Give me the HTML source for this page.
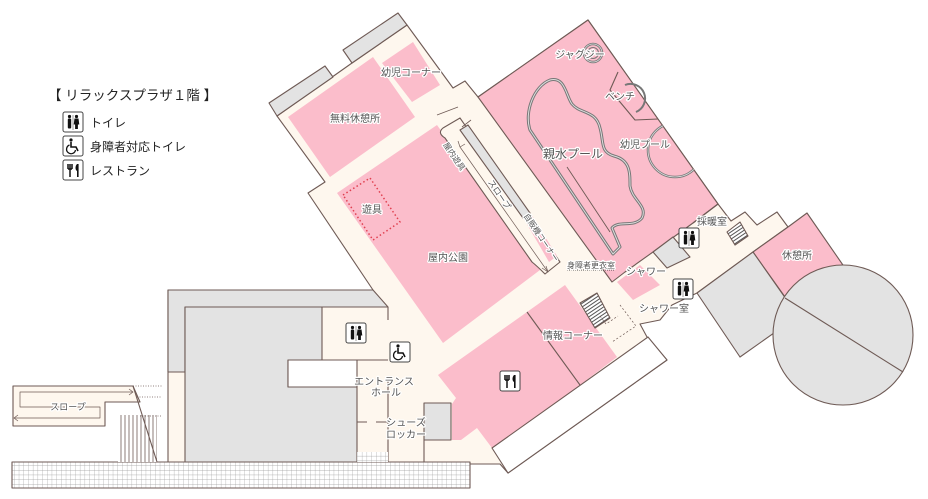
<!DOCTYPE html>
<html><head><meta charset="utf-8"><style>
html,body{margin:0;padding:0;background:#fff;}
svg{display:block;}
text{font-family:"Liberation Sans","Noto Sans CJK JP",sans-serif;fill:#555;}
.l{font-size:10px;paint-order:stroke;stroke:#fff;stroke-width:2.5px;stroke-linejoin:round;}
</style></head><body>
<svg width="928" height="499" viewBox="0 0 928 499" xmlns="http://www.w3.org/2000/svg">
<defs>
<pattern id="grid" width="4.7" height="4.7" patternUnits="userSpaceOnUse">
<rect width="4.7" height="4.7" fill="#fff"/><path d="M0 0H4.7M0 0V4.7" stroke="#999" stroke-width="0.6"/>
</pattern>
<pattern id="vl" width="4" height="4" patternUnits="userSpaceOnUse"><rect width="4" height="4" fill="#fff"/><path d="M1 0V4" stroke="#6e5a55" stroke-width="0.8"/></pattern>
<pattern id="hs" width="3" height="3" patternUnits="userSpaceOnUse" patternTransform="rotate(-34)"><rect width="3" height="3" fill="#fff"/><path d="M0 1H3" stroke="#555" stroke-width="1"/></pattern>
<clipPath id="poolclip"><polygon points="478,97 588,20 718,204 693,223 653,252 625,272 612,282"/></clipPath>
<g id="wc"><rect x="0" y="0" width="20" height="20" rx="2" fill="#fff" stroke="#444" stroke-width="1"/>
<circle cx="6.5" cy="4.5" r="1.6" fill="#111"/><rect x="4.8" y="6.5" width="3.4" height="10" rx="1" fill="#111"/>
<circle cx="13.5" cy="4.5" r="1.6" fill="#111"/><path d="M11.5 6.5h4l0.8 6h-1.4v4.5h-2.8v-4.5h-1.4z" fill="#111"/>
<line x1="10" y1="3" x2="10" y2="18" stroke="#444" stroke-width="0.5"/></g>
<g id="rest"><rect x="0" y="0" width="20" height="20" rx="2" fill="#fff" stroke="#444"/>
<path d="M5 4v5M7 4v5M9 4v5M5 9h4M7 9v8" stroke="#111" stroke-width="1.5" fill="none"/><path d="M14 4c-2 2-2 6 0 7v6h1.6V4z" fill="#111"/></g>
<g id="hc"><rect x="0" y="0" width="20" height="20" rx="2" fill="#fff" stroke="#444"/>
<circle cx="8" cy="4" r="1.6" fill="#111"/><path d="M8 6v5h5l2 4" stroke="#111" stroke-width="1.6" fill="none"/><path d="M6.5 9a4.5 4.5 0 1 0 6 5" stroke="#111" stroke-width="1.3" fill="none"/></g>
</defs>

<text x="48" y="100" style="font-size:13.5px;fill:#222">【 リラックスプラザ１階 】</text>
<use href="#wc" x="63" y="112"/>
<text x="90" y="127" style="font-size:12px;fill:#222">トイレ</text>
<use href="#hc" x="63" y="136"/>
<text x="90" y="151" style="font-size:12px;fill:#222">身障者対応トイレ</text>
<use href="#rest" x="63" y="160"/>
<text x="90" y="175" style="font-size:12px;fill:#222">レストラン</text>

<g stroke="#6e5a55" stroke-width="1.1" stroke-linejoin="round">
<rect x="12" y="462" width="458" height="26" fill="url(#grid)"/>
<polygon fill="#fef7ee" points="277,116 352,63 407,25 453,88 465,81 478,97 588,20 718,204 731,221 745,212 757,225 777,212 788,227 753,252 697,293 672,305 660,320 640,324 647,337 667,360 508,473 500,464 470,464 470,462 168,462 168,290 373,290 308,193 325,182"/>
<polygon fill="#e3e3e3" points="269,103 325,66 333,77 277,116"/>
<polygon fill="#e3e3e3" points="343,50 398,13 407,25 352,63"/>
<polygon fill="#fbbdcb" stroke="none" points="288,117 373,57 415,117 330,177"/>
<polygon fill="#fbbdcb" stroke="none" points="382,63 413,42 440,85 412,102"/>
<polygon fill="#fbbdcb" stroke="none" points="337,193 437,125 540,270 443,343"/>
<polygon fill="#fbbdcb" points="478,97 588,20 718,204 693,223 653,252 625,272 612,282"/>
<polygon fill="#e3e3e3" points="653,252 673,237 690,257 667,268"/>
<polygon fill="#fbbdcb" stroke="none" points="617,282 640,265 660,285 633,300"/>
<line x1="693" y1="223" x2="718" y2="204"/>
<path d="M443,128 L460,118 L560,262 L545,274 Q537,266 532,262 L445,138 Q437,133 443,128Z" fill="#fef7ee"/>
<polygon fill="#e3e3e3" points="460,130 468,125 530,213 523,218"/>
<polygon fill="#fbbdcb" stroke="none" points="524,219 531,214 557,256 549,262"/>
<path d="M460,147 L548,272" stroke-width="0.7" fill="none"/>
<path d="M546,266 L548,272 L542,268" fill="none" stroke-width="0.7"/>
<path d="M460,147 L458,141 M460,147 L465,144" stroke-width="0.7"/>
<line x1="437" y1="115" x2="458" y2="107" stroke-width="0.8"/>
<line x1="462" y1="127" x2="471" y2="120" stroke-width="0.8"/>
<path d="M530,130 C524,112 534,86 550,80 C565,76 566,96 572,104 C580,114 596,110 600,128 C604,142 600,152 614,156 C630,160 630,172 630,186 C632,200 648,206 642,218 C634,228 618,220 612,228 L620,247 L613,254 Z" fill="none" stroke="#777" stroke-width="3"/>
<path d="M530,130 C524,112 534,86 550,80 C565,76 566,96 572,104 C580,114 596,110 600,128 C604,142 600,152 614,156 C630,160 630,172 630,186 C632,200 648,206 642,218 C634,228 618,220 612,228 L620,247 L613,254 Z" fill="none" stroke="#ddd" stroke-width="1"/>
<line x1="567" y1="167" x2="610" y2="232" stroke-width="0.9"/>
<circle cx="593" cy="53" r="9" fill="none" stroke="#777" stroke-width="2.5"/>
<circle cx="593" cy="53" r="9" fill="none" stroke="#ddd" stroke-width="0.8"/>
<circle cx="593" cy="53" r="5.5" fill="none" stroke="#777" stroke-width="1"/>
<g clip-path="url(#poolclip)">
<circle cx="675" cy="150" r="27" fill="none" stroke="#777" stroke-width="2.5"/>
<circle cx="675" cy="150" r="27" fill="none" stroke="#ddd" stroke-width="0.8"/>
</g>
<path d="M618,72 L610,90 L635,120 L658,119" fill="none"/>
<path d="M625,85 A14,14 0 0 1 636,112" fill="none" stroke="#777" stroke-width="2"/>
<polygon fill="#fbbdcb" points="788,227 807,213 845,268 785,297 753,252"/>
<polygon fill="#e3e3e3" points="697,293 753,252 798,316 740,357"/>
<circle cx="843" cy="335" r="70" fill="#e3e3e3"/>
<line x1="785" y1="298" x2="903" y2="372"/>
<polygon fill="url(#hs)" points="727,232 740,222 748,236 735,245"/>
<polygon fill="#fbbdcb" stroke="none" points="438,375 527,312 565,285 617,357 580,385 492,448 477,428 461,440 452,440 452,404 456,398"/>
<line x1="527" y1="312" x2="580" y2="385"/>
<polygon fill="url(#hs)" points="580,303 597,293 610,318 595,328"/>
<polyline points="600,316 606,324 618,316" fill="none" stroke-width="0.7" stroke-dasharray="2,2"/>
<polyline points="620,305 636,326 612,342" fill="none" stroke-width="0.7" stroke-dasharray="2,2"/>
<polygon fill="#fff" points="492,448 648,337 667,360 508,473"/>
<line x1="470" y1="464" x2="500" y2="464"/>
<path d="M168,290 L373,290 L388,307 L185,307 L185,372 L168,372 Z" fill="#e3e3e3"/>
<path d="M185,307 L322,307 L322,360 L288,360 L288,387 L357,387 L357,462 L185,462 Z" fill="#e3e3e3"/>
<rect x="288" y="360" width="69" height="27" fill="#fff"/>
<line x1="322" y1="360" x2="388" y2="360"/>
<line x1="388" y1="307" x2="388" y2="320"/>
<line x1="388" y1="378" x2="388" y2="462"/>
<line x1="424" y1="440" x2="424" y2="462"/>
<rect x="424" y="403" width="27" height="37" fill="#e3e3e3"/>
<path d="M357,422h10M376,422h12" fill="none"/>
<rect x="357" y="452" width="31" height="10" fill="url(#grid)" stroke="none"/>
<path d="M13,386 L133,386 L140,402 L105,402 L105,426 L13,426 Z" fill="#fef7ee"/>
<rect x="118" y="415" width="39" height="47" fill="url(#vl)" stroke="none"/>
<line x1="133" y1="386" x2="157" y2="462"/>
<path d="M133,392 L20,392 L20,407 L100,407 L100,418 L14,418" fill="none" stroke-width="0.7"/>
<path d="M129,389 L133,392 L129,395 M18,415 L14,418 L18,421" fill="none" stroke-width="0.7"/>
<path d="M133,386h29M137,397h25M140,416h22" stroke-dasharray="1,1.5" stroke-width="0.7"/>
<polygon points="343,195 370,178 400,222 373,240" fill="none" stroke="#e04050" stroke-width="1.5" stroke-dasharray="1.5,2.5"/>
<line x1="567" y1="270" x2="614" y2="270" stroke="#444" stroke-dasharray="1,1" stroke-width="1"/>
</g>

<use href="#wc" x="679" y="228"/>
<use href="#wc" x="673" y="279"/>
<use href="#wc" x="346" y="323"/>
<use href="#hc" x="390" y="342"/>
<use href="#rest" x="500" y="371"/>

<text class="l" x="355" y="122" text-anchor="middle">無料休憩所</text>
<text class="l" x="411" y="76" text-anchor="middle">幼児コーナー</text>
<text class="l" x="372" y="213" text-anchor="middle">遊具</text>
<text class="l" x="448" y="261" text-anchor="middle">屋内公園</text>
<text class="l" x="573" y="158" text-anchor="middle" style="font-size:12px">親水プール</text>
<text class="l" x="580" y="58" text-anchor="middle">ジャグジー</text>
<text class="l" x="620" y="100" text-anchor="middle">ベンチ</text>
<text class="l" x="645" y="148" text-anchor="middle">幼児プール</text>
<text class="l" x="712" y="225" text-anchor="middle">採暖室</text>
<text class="l" x="797" y="259" text-anchor="middle">休憩所</text>
<text class="l" x="591" y="268" text-anchor="middle" style="font-size:8px">身障者更衣室</text>
<text class="l" x="646" y="275" text-anchor="middle">シャワー</text>
<text class="l" x="664" y="312" text-anchor="middle">シャワー室</text>
<text class="l" x="573" y="339" text-anchor="middle">情報コーナー</text>
<text class="l" x="384" y="385" text-anchor="middle">エントランス</text>
<text class="l" x="386" y="396" text-anchor="middle">ホール</text>
<text class="l" x="406" y="426" text-anchor="middle">シューズ</text>
<text class="l" x="406" y="438" text-anchor="middle">ロッカー</text>
<text class="l" x="68" y="410" text-anchor="middle" style="font-size:9px">スロープ</text>
<text class="l" transform="translate(452,158) rotate(56)" text-anchor="middle" style="font-size:8px">屋内遊具</text>
<text class="l" transform="translate(497,196) rotate(56)" text-anchor="middle" style="font-size:8.5px">スロープ</text>
<text class="l" transform="translate(539,239) rotate(56)" text-anchor="middle" style="font-size:8px">自販機コーナー</text>
</svg>
</body></html>
